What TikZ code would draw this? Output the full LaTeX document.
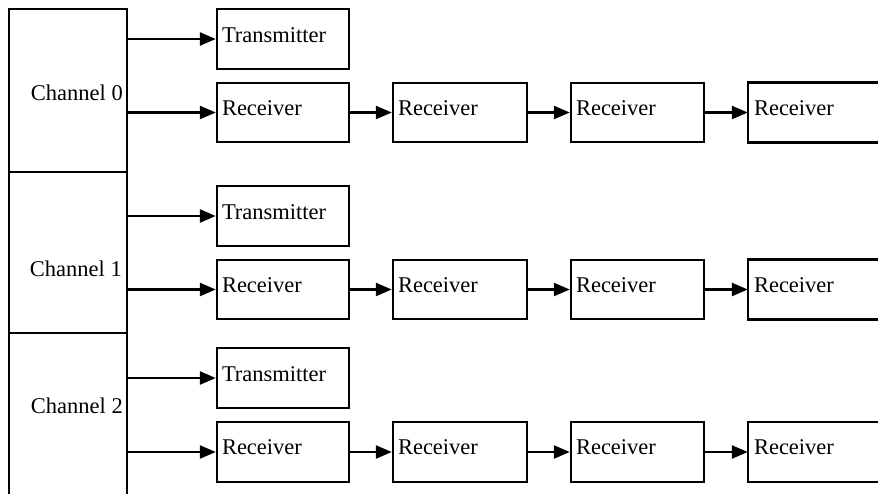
\documentclass[tikz,border=0pt]{standalone}
\usepackage{fontspec}
\setmainfont{Liberation Serif}
\usetikzlibrary{arrows.meta}
\begin{document}
\begin{tikzpicture}[x=1pt,y=-1pt,
  every node/.style={font=\fontsize{22.5}{27}\selectfont},
  box/.style={draw, line width=2.4pt, inner sep=0pt, minimum height=59.5pt},
  openbox/.style={inner sep=0pt, minimum height=59.5pt},
  chan/.style={draw, line width=2.4pt, inner sep=0pt, minimum width=118pt},
  lbl/.style={anchor=base west, inner sep=0pt},
  clbl/.style={anchor=base east, inner sep=0pt},
  arr/.style={line width=2.4pt, -{Triangle[length=16pt,width=13pt]}}]
\clip (0,0) rectangle (878,493);
\fill[white] (0,0) rectangle (878,493);
% channel boxes
\node[chan, minimum height=163pt] (ch0) at (68,90.5) {};
\node[chan, minimum height=161pt] (ch1) at (68,252.5) {};
\node[chan, minimum height=175pt] (ch2) at (68,420.5) {};
\node[clbl] at (123,100) {Channel 0};
\node[clbl] at (122,276) {Channel 1};
\node[clbl] at (123,413) {Channel 2};
% rows: transmitter y centers 39, 216, 378; receiver y centers 112.5, 289.5, 452
\foreach \i/\ty/\ry in {0/39/112.5, 1/216/289.5, 2/378/452}{
  \node[box, minimum width=132pt] (t\i) at (283,\ty) {};
  \node[lbl] at ([xshift=6pt,yshift=-3pt]t\i.west) {Transmitter};
  \node[box, minimum width=132pt] (r\i a) at (283,\ry) {};
  \node[box, minimum width=134pt] (r\i b) at (460,\ry) {};
  \node[box, minimum width=133pt] (r\i c) at (637.5,\ry) {};
  \node[openbox, minimum width=140pt] (r\i d) at (818,\ry) {};
  \draw[line width=2.4pt] (r\i d.north east) -- (r\i d.north west) -- (r\i d.south west) -- (r\i d.south east);
  \foreach \c in {a,b,c,d}{
    \node[lbl] at ([xshift=6pt,yshift=-2.5pt]r\i\c.west) {Receiver};
  }
  \draw[arr] (t\i.west -| ch\i.east) -- (t\i.west);
  \draw[arr] (r\i a.west -| ch\i.east) -- (r\i a.west);
  \draw[arr] (r\i a.east) -- (r\i b.west);
  \draw[arr] (r\i b.east) -- (r\i c.west);
  \draw[arr] (r\i c.east) -- (r\i d.west);
}
\end{tikzpicture}
\end{document}
